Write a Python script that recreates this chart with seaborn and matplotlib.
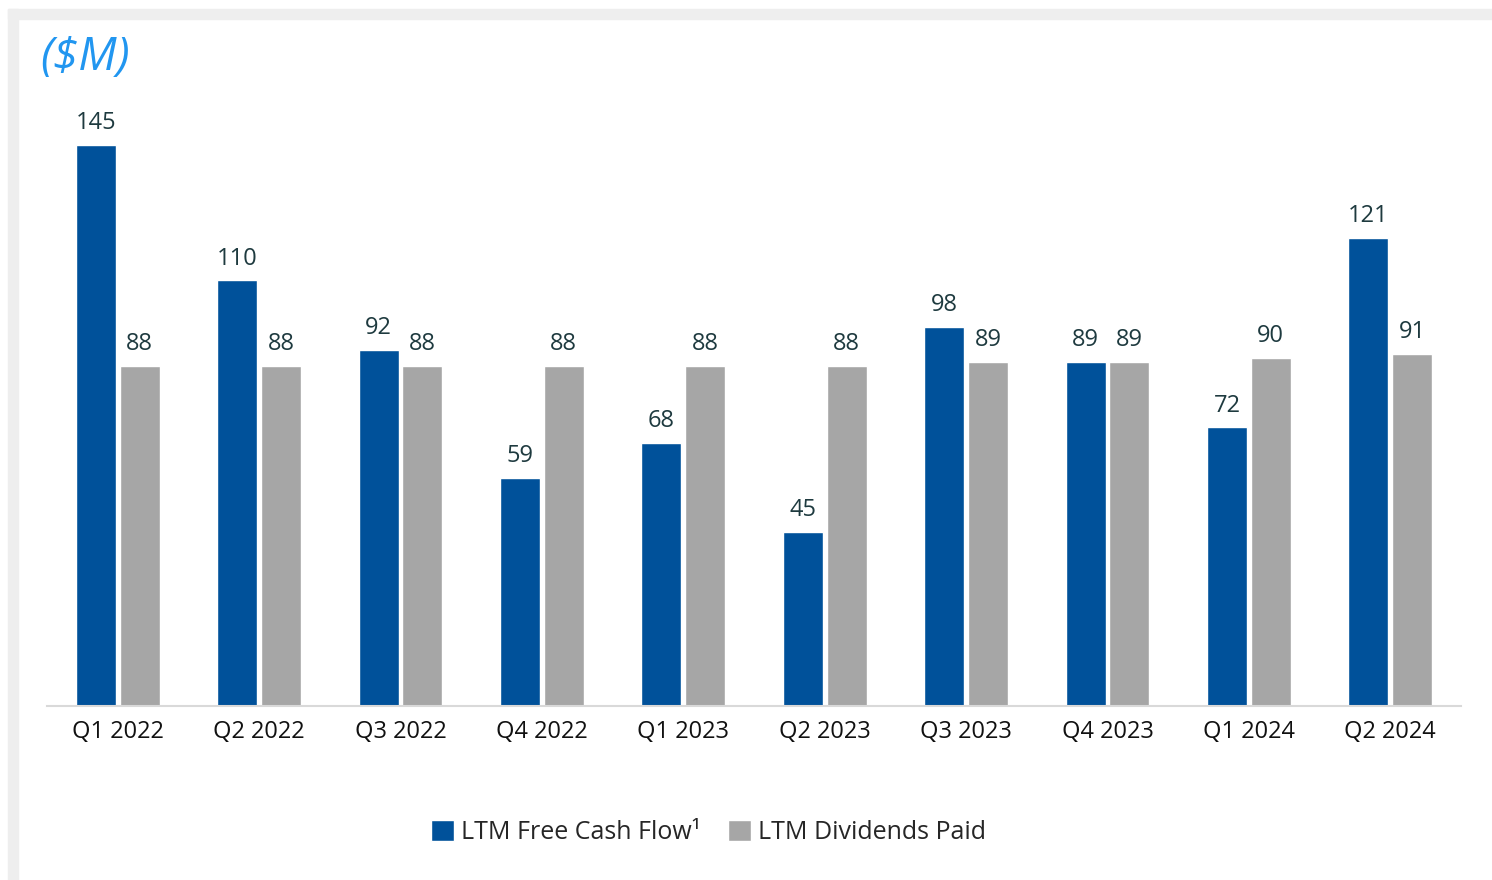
import pandas as pd
import matplotlib.pyplot as plt
import seaborn as sns
from matplotlib.patches import Patch, Rectangle

quarters = ["Q1 2022", "Q2 2022", "Q3 2022", "Q4 2022", "Q1 2023",
            "Q2 2023", "Q3 2023", "Q4 2023", "Q1 2024", "Q2 2024"]
free_cash_flow = [145, 110, 92, 59, 68, 45, 98, 89, 72, 121]
dividends_paid = [88, 88, 88, 88, 88, 88, 89, 89, 90, 91]
series_names = ["LTM Free Cash Flow\u00b9", "LTM Dividends Paid"]
series_colors = ["#00519A", "#A6A6A6"]


def plot_fcf_vs_dividends():
    df = pd.DataFrame({
        "quarter": quarters * 2,
        "value": free_cash_flow + dividends_paid,
        "series": [series_names[0]] * len(quarters) + [series_names[1]] * len(quarters),
    })

    sns.set_style("white")
    plt.rcParams["font.family"] = ["Open Sans", "DejaVu Sans"]

    fig = plt.figure(figsize=(14.92, 8.80), dpi=100)
    ax = fig.add_axes([0.0315, 0.1977, 0.9477, 0.7035])

    sns.barplot(data=df, x="quarter", y="value", hue="series",
                palette=series_colors, width=0.62, gap=0.09,
                saturation=1, legend=False, ax=ax)

    for container in ax.containers:
        ax.bar_label(container, fmt="%d", padding=7, fontsize=17,
                     color="#1E3A3F")

    ax.set_ylim(0, 160)
    ax.set_xlim(-0.5, len(quarters) - 0.5)
    ax.set_xlabel("")
    ax.set_ylabel("")
    ax.set_yticks([])
    ax.tick_params(axis="x", length=0, pad=10, labelsize=17, labelcolor="#111111")
    sns.despine(ax=ax, left=True)
    ax.spines["bottom"].set_color("#D9D9D9")
    ax.spines["bottom"].set_linewidth(1.5)

    # light grey frame along the top and left edges
    fig.patches.append(Rectangle((8 / 1492, 1 - 19 / 880), 1, 10 / 880,
                                 transform=fig.transFigure, color="#EEEEEE", zorder=0))
    fig.patches.append(Rectangle((8 / 1492, 0), 10 / 1492, 1 - 9 / 880,
                                 transform=fig.transFigure, color="#EEEEEE", zorder=0))

    fig.text(0.027, 0.934, "($M)", fontsize=33, style="italic",
             color="#2196F0", va="center", ha="left")

    handles = [Patch(facecolor=c, label=n) for c, n in zip(series_colors, series_names)]
    fig.legend(handles=handles, loc="center", bbox_to_anchor=(0.475, 0.054),
               ncol=2, frameon=False, fontsize=18, handlelength=0.9,
               handleheight=0.9, handletextpad=0.3, columnspacing=1.1)

    fig.savefig("out.png", dpi=100)


if __name__ == "__main__":
    plot_fcf_vs_dividends()
